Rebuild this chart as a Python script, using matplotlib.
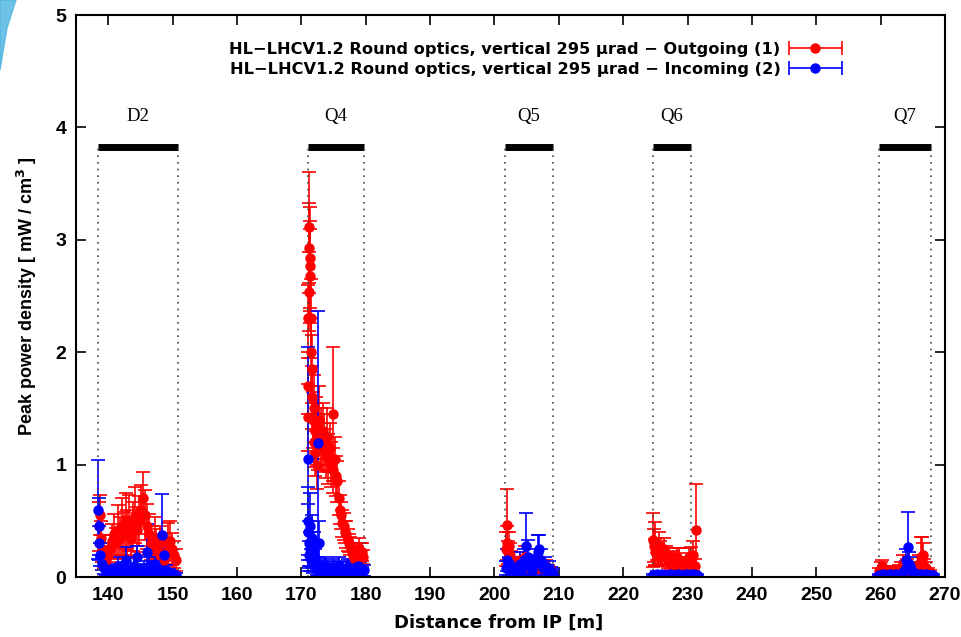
import matplotlib
matplotlib.use('Agg')
import matplotlib.pyplot as plt
import numpy as np
from matplotlib.legend_handler import HandlerErrorbar
from matplotlib.patches import Polygon

# magnets: name, start, end
magnets = ['D2', 'Q4', 'Q5', 'Q6', 'Q7']
mag_start = [138.4, 171.1, 201.7, 224.6, 259.7]
mag_end = [150.8, 179.7, 209.1, 230.5, 267.9]
mag_level = 3.83

# Outgoing (1), red
out_x = [138.5, 138.7, 138.9, 139.1, 139.4, 139.7, 140.0, 140.3, 140.6, 140.9,
         141.2, 141.5, 141.8, 142.1, 142.4, 142.7, 143.0, 143.3, 143.6, 143.9,
         144.2, 144.5, 144.8, 145.1, 145.4, 145.7, 146.0, 146.3, 146.6, 146.9,
         147.2, 147.5, 147.8, 148.1, 148.4, 148.7, 149.0, 149.3, 149.6, 149.9,
         150.2, 150.5,
         171.0, 171.05, 171.1, 171.15, 171.2, 171.25, 171.3, 171.35, 171.4, 171.45,
         171.5, 171.6, 171.7, 171.8, 171.9, 172.0, 172.1, 172.2, 172.3, 172.4,
         172.5, 172.6, 172.8, 173.0, 173.2, 173.4, 173.6, 173.8, 174.0, 174.2,
         174.4, 174.6, 174.9, 175.0, 175.2, 175.4, 175.6, 175.8, 176.0, 176.2,
         176.4, 176.6, 176.8, 177.0, 177.2, 177.4, 177.6, 177.8, 178.0, 178.2,
         178.4, 178.6, 178.8, 179.0, 179.2, 179.4, 179.6,
         201.8, 201.9, 202.0, 202.1, 202.2, 202.4, 202.6, 202.8, 203.0, 203.3,
         203.6, 204.0, 204.4, 204.8, 205.2, 205.6, 206.0, 206.4, 206.8, 207.2,
         207.6, 208.0, 208.4, 208.8,
         224.7, 224.8, 224.9, 225.0, 225.2, 225.4, 225.6, 225.8, 226.0, 226.3,
         226.6, 226.9, 227.2, 227.5, 227.8, 228.1, 228.4, 228.7, 229.0, 229.3,
         229.6, 229.9, 230.2, 230.5, 230.8, 231.1, 231.3,
         259.8, 260.0, 260.2, 260.5, 260.8, 261.1, 261.4, 261.7, 262.0, 262.3,
         262.6, 262.9, 263.2, 263.5, 263.8, 264.1, 264.4, 264.7, 265.0, 265.3,
         265.6, 265.9, 266.2, 266.4, 266.6, 266.8, 267.0, 267.3, 267.6]
out_y = [0.45, 0.55, 0.35, 0.25, 0.18, 0.15, 0.20, 0.25, 0.32, 0.38,
         0.30, 0.42, 0.35, 0.45, 0.38, 0.50, 0.40, 0.48, 0.35, 0.45,
         0.55, 0.42, 0.50, 0.60, 0.70, 0.55, 0.45, 0.38, 0.30, 0.25,
         0.35, 0.28, 0.22, 0.30, 0.20, 0.15, 0.22, 0.30, 0.32, 0.25,
         0.20, 0.15,
         1.70, 2.30, 1.42, 2.54, 2.93, 3.11, 2.84, 2.68, 2.77, 2.30,
         2.00, 1.85, 1.60, 1.40, 1.20, 1.50, 1.30, 1.10, 1.35, 1.25,
         1.00, 1.20, 1.40, 1.25, 1.15, 1.30, 1.20, 1.10, 1.25, 1.05,
         1.15, 1.00, 1.45, 0.95, 1.05, 0.90, 0.85, 0.70, 0.60, 0.55,
         0.48, 0.45, 0.40, 0.38, 0.33, 0.30, 0.28, 0.22, 0.20, 0.18,
         0.15, 0.20, 0.22, 0.25, 0.20, 0.22, 0.18,
         0.25, 0.46, 0.30, 0.22, 0.28, 0.20, 0.15, 0.12, 0.10, 0.08,
         0.10, 0.15, 0.12, 0.18, 0.10, 0.08, 0.12, 0.10, 0.08, 0.10,
         0.08, 0.10, 0.07, 0.06,
         0.33, 0.28, 0.22, 0.30, 0.25, 0.20, 0.28, 0.22, 0.18, 0.25,
         0.20, 0.15, 0.18, 0.14, 0.16, 0.12, 0.18, 0.14, 0.12, 0.10,
         0.12, 0.14, 0.18, 0.15, 0.20, 0.10, 0.42,
         0.05, 0.08, 0.10, 0.06, 0.05, 0.06, 0.05, 0.06, 0.05, 0.06,
         0.05, 0.07, 0.08, 0.12, 0.08, 0.10, 0.06, 0.05, 0.08, 0.06,
         0.08, 0.12, 0.18, 0.15, 0.20, 0.10, 0.08, 0.05, 0.04]
out_err = [0.22, 0.18, 0.15, 0.12, 0.10, 0.08, 0.10, 0.12, 0.15, 0.18,
           0.14, 0.22, 0.18, 0.25, 0.20, 0.25, 0.20, 0.25, 0.18, 0.22,
           0.25, 0.20, 0.22, 0.22, 0.23, 0.22, 0.20, 0.18, 0.15, 0.13,
           0.18, 0.15, 0.12, 0.15, 0.12, 0.10, 0.12, 0.18, 0.18, 0.14,
           0.12, 0.10,
           0.25, 0.30, 0.30, 0.35, 0.40, 0.49, 0.45, 0.42, 0.40, 0.35,
           0.30, 0.30, 0.28, 0.25, 0.22, 0.30, 0.25, 0.20, 0.25, 0.25,
           0.22, 0.25, 0.30, 0.25, 0.22, 0.25, 0.25, 0.22, 0.25, 0.22,
           0.22, 0.20, 0.60, 0.20, 0.20, 0.18, 0.18, 0.15, 0.13, 0.12,
           0.12, 0.12, 0.10, 0.12, 0.10, 0.08, 0.08, 0.07, 0.08, 0.10,
           0.08, 0.08, 0.08, 0.10, 0.10, 0.08, 0.06,
           0.15, 0.32, 0.15, 0.10, 0.12, 0.10, 0.08, 0.06, 0.05, 0.04,
           0.05, 0.07, 0.06, 0.10, 0.05, 0.04, 0.06, 0.05, 0.04, 0.05,
           0.04, 0.05, 0.04, 0.03,
           0.24, 0.15, 0.12, 0.19, 0.10, 0.10, 0.12, 0.10, 0.08, 0.10,
           0.08, 0.07, 0.08, 0.07, 0.07, 0.06, 0.08, 0.12, 0.06, 0.05,
           0.06, 0.07, 0.08, 0.12, 0.12, 0.06, 0.41,
           0.03, 0.05, 0.05, 0.04, 0.03, 0.04, 0.03, 0.03, 0.03, 0.04,
           0.03, 0.04, 0.05, 0.08, 0.05, 0.06, 0.04, 0.03, 0.05, 0.04,
           0.05, 0.08, 0.18, 0.21, 0.10, 0.06, 0.05, 0.03, 0.02]

# Incoming (2), blue
inc_x = [138.4, 138.5, 138.6, 138.8, 139.0, 139.3, 139.6, 140.0, 140.4, 140.8,
         141.2, 141.6, 142.0, 142.4, 142.8, 143.2, 143.6, 144.0, 144.4, 144.8,
         145.2, 145.6, 146.0, 146.4, 146.8, 147.2, 147.6, 148.0, 148.4, 148.7,
         149.0, 149.4, 149.8, 150.2, 150.6,
         171.0, 171.05, 171.1, 171.15, 171.2, 171.3, 171.4, 171.5, 171.6, 171.7,
         171.8, 172.0, 172.2, 172.4, 172.55, 172.7, 172.9, 173.1, 173.4, 173.7,
         174.0, 174.3, 174.6, 174.9, 175.2, 175.5, 175.8, 176.1, 176.4, 176.7,
         177.0, 177.3, 177.6, 177.9, 178.2, 178.5, 178.8, 179.1, 179.4, 179.7,
         201.8, 202.0, 202.2, 202.4, 202.6, 202.8, 203.0, 203.3, 204.0, 204.3,
         204.6, 204.9, 205.2, 205.5, 205.8, 206.1, 206.4, 206.7, 207.0, 207.3,
         207.6, 207.9, 208.2, 208.5, 208.8, 209.1,
         224.6, 224.9, 225.2, 225.5, 225.8, 226.1, 226.4, 226.7, 227.0, 227.3,
         227.6, 227.9, 228.2, 228.5, 228.8, 229.1, 229.4, 229.7, 230.0, 230.3,
         230.6, 230.9, 231.2, 231.5,
         259.7, 260.0, 260.3, 260.6, 260.9, 261.2, 261.5, 261.8, 262.1, 262.4,
         262.7, 263.0, 263.3, 263.6, 263.9, 264.0, 264.2, 264.4, 264.6, 264.9,
         265.2, 265.5, 265.8, 266.1, 266.4, 266.7, 267.0, 267.3, 267.6, 267.9,
         268.2]
inc_y = [0.60, 0.45, 0.30, 0.20, 0.12, 0.08, 0.06, 0.05, 0.07, 0.04,
         0.06, 0.10, 0.05, 0.08, 0.15, 0.06, 0.04, 0.10, 0.18, 0.07,
         0.05, 0.08, 0.22, 0.10, 0.05, 0.12, 0.08, 0.05, 0.37, 0.20,
         0.06, 0.04, 0.03, 0.02, 0.02,
         0.40, 1.05, 0.50, 0.30, 0.20, 0.45, 0.25, 0.15, 0.35, 0.20,
         0.12, 0.25, 0.15, 0.10, 1.19, 0.30, 0.10, 0.08, 0.06, 0.10,
         0.05, 0.08, 0.06, 0.09, 0.05, 0.07, 0.10, 0.06, 0.08, 0.05,
         0.07, 0.09, 0.06, 0.05, 0.08, 0.06, 0.10, 0.07, 0.05, 0.06,
         0.08, 0.15, 0.10, 0.12, 0.06, 0.08, 0.04, 0.02, 0.12, 0.08,
         0.15, 0.28, 0.18, 0.10, 0.06, 0.12, 0.15, 0.22, 0.25, 0.15,
         0.08, 0.10, 0.06, 0.08, 0.05, 0.04,
         0.02, 0.02, 0.03, 0.02, 0.02, 0.03, 0.02, 0.02, 0.02, 0.03,
         0.02, 0.02, 0.02, 0.03, 0.02, 0.02, 0.02, 0.03, 0.02, 0.02,
         0.02, 0.03, 0.02, 0.02,
         0.02, 0.02, 0.03, 0.02, 0.02, 0.02, 0.03, 0.02, 0.02, 0.03,
         0.02, 0.03, 0.04, 0.05, 0.08, 0.15, 0.27, 0.12, 0.10, 0.05,
         0.04, 0.03, 0.02, 0.03, 0.02, 0.02, 0.03, 0.02, 0.02, 0.02,
         0.02]
inc_err = [0.44, 0.25, 0.15, 0.10, 0.06, 0.05, 0.04, 0.03, 0.05, 0.03,
           0.04, 0.08, 0.04, 0.05, 0.12, 0.04, 0.03, 0.08, 0.10, 0.05,
           0.04, 0.06, 0.25, 0.08, 0.04, 0.10, 0.06, 0.04, 0.37, 0.15,
           0.05, 0.03, 0.02, 0.02, 0.02,
           0.25, 1.00, 0.30, 0.20, 0.12, 0.30, 0.15, 0.10, 0.20, 0.12,
           0.08, 0.15, 0.10, 0.08, 1.18, 0.20, 0.06, 0.06, 0.05, 0.08,
           0.04, 0.06, 0.05, 0.07, 0.04, 0.06, 0.08, 0.05, 0.06, 0.04,
           0.06, 0.07, 0.05, 0.04, 0.06, 0.05, 0.08, 0.06, 0.04, 0.05,
           0.06, 0.10, 0.08, 0.10, 0.04, 0.05, 0.03, 0.02, 0.10, 0.06,
           0.10, 0.29, 0.15, 0.08, 0.05, 0.08, 0.10, 0.15, 0.12, 0.10,
           0.06, 0.08, 0.05, 0.06, 0.04, 0.03,
           0.01, 0.01, 0.02, 0.01, 0.01, 0.02, 0.01, 0.01, 0.01, 0.02,
           0.01, 0.01, 0.01, 0.02, 0.01, 0.01, 0.01, 0.02, 0.01, 0.01,
           0.01, 0.02, 0.01, 0.01,
           0.01, 0.01, 0.02, 0.01, 0.01, 0.01, 0.02, 0.01, 0.01, 0.02,
           0.01, 0.02, 0.03, 0.04, 0.06, 0.10, 0.31, 0.10, 0.08, 0.04,
           0.03, 0.02, 0.01, 0.02, 0.01, 0.01, 0.02, 0.01, 0.01, 0.01,
           0.01]

label_out = 'HL\u2212LHCV1.2 Round optics, vertical 295 \u03bcrad \u2212 Outgoing (1)'
label_inc = 'HL\u2212LHCV1.2 Round optics, vertical 295 \u03bcrad \u2212 Incoming (2)'

plt.rcParams['font.family'] = ['Liberation Sans', 'DejaVu Sans']
plt.rcParams['font.weight'] = 'bold'

fig = plt.figure(figsize=(9.61, 6.37), dpi=100)
ax = fig.add_axes([76 / 961, 60 / 637, 869 / 961, 562 / 637])

e1 = ax.errorbar(out_x, out_y, yerr=out_err, fmt='o', color='#ff0000', ms=6.5,
                 capsize=5, elinewidth=1.2, capthick=1.2, label=label_out)
e2 = ax.errorbar(inc_x, inc_y, yerr=inc_err, fmt='o', color='#0000ff', ms=6.5,
                 capsize=5, elinewidth=1.2, capthick=1.2, label=label_inc)

# magnet bars
for name, s, e in zip(magnets, mag_start, mag_end):
    ax.plot([s, e], [mag_level, mag_level], color='black', lw=5, solid_capstyle='butt')
    ax.vlines([s, e], 0, mag_level, colors='#444444', linestyles=(0, (1, 3)), lw=1.2)
    ax.text((s + e) / 2, 4.1, name, ha='center', va='center', fontsize=13.5,
            family='Liberation Serif', fontweight='normal')

ax.set_xlim(135, 270)
ax.set_ylim(0, 5)
ax.set_xticks(np.arange(140, 271, 10))
ax.set_yticks([0, 1, 2, 3, 4, 5])
ax.tick_params(direction='in', top=True, right=True, length=7, width=1.2,
               labelsize=14, pad=7)
for sp in ax.spines.values():
    sp.set_linewidth(1.5)

ax.set_xlabel('Distance from IP [m]', fontsize=13, fontweight='bold',
              family=['DejaVu Sans'])
ax.xaxis.set_label_coords(0.486, -0.065)
ax.set_ylabel('Peak power density [ mW / cm$^\\mathbf{3}$ ]', fontsize=13,
              fontweight='bold', labelpad=12)

# legend with horizontal error-bar samples (gnuplot style)
for c in (e1, e2):
    c.has_xerr = True
    c.has_yerr = False
leg = ax.legend(handles=[e1, e2], loc='upper center', bbox_to_anchor=(0.530, 0.978),
                frameon=False, markerfirst=False, handlelength=3.5,
                prop={'family': 'DejaVu Sans', 'weight': 'bold', 'size': 11.7},
                handletextpad=0.4, labelspacing=0.3, numpoints=1,
                handler_map={e1: HandlerErrorbar(xerr_size=1.65),
                             e2: HandlerErrorbar(xerr_size=1.65)})

# corner decoration from the slide
fig.patches.append(Polygon([[0, 1], [16 / 961, 1], [7 / 961, 1 - 28 / 637], [0, 1 - 70 / 637]],
                           closed=True, transform=fig.transFigure, color='#49b3e0', alpha=0.8))

plt.savefig('out.png', dpi=100)
